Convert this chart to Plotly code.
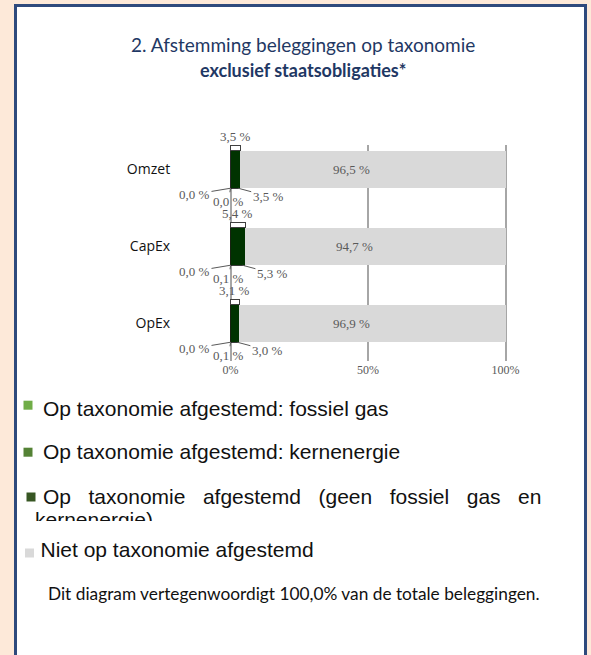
import plotly.graph_objects as go

# ---------------- data ----------------
categories = ["Omzet", "CapEx", "OpEx"]
fossiel_gas = [0.0, 0.0, 0.0]
kernenergie = [0.0, 0.1, 0.1]
geen_fossiel_kern = [3.5, 5.3, 3.0]
niet_afgestemd = [96.5, 94.7, 96.9]
totaal_afgestemd = [3.5, 5.4, 3.1]
x_tickvals = [0, 50, 100]
x_ticktext = ["0%", "50%", "100%"]

title_line1 = "2. Afstemming beleggingen op taxonomie"
title_line2 = "exclusief staatsobligaties*"
legend_labels = [
    "Op taxonomie afgestemd: fossiel gas",
    "Op taxonomie afgestemd: kernenergie",
    "Op taxonomie afgestemd (geen fossiel gas en kernenergie)",
    "Niet op taxonomie afgestemd",
]
legend_colors = ["#70AD47", "#548235", "#375623", "#D9D9D9"]
footnote = "Dit diagram vertegenwoordigt 100,0% van de totale beleggingen."

# ---------------- helpers ----------------
W, H = 591, 655
def px(x):
    return x / W
def py(y):
    return 1 - y / H
def fmt(v):
    return f"{v:.1f}".replace(".", ",") + " %"

BAR_W = 0.487
BOX_W = 0.065
LBL_FONT = dict(family="Liberation Serif, Times New Roman, serif", size=13, color="#595959")
LEG_FONT = dict(family="Liberation Sans, Arial, sans-serif", size=21, color="#111111")
NAVY = "#1F3864"

fig = go.Figure()

bar_series = [
    (legend_labels[0], fossiel_gas, legend_colors[0], None),
    (legend_labels[1], kernenergie, legend_colors[1], None),
    (legend_labels[2], geen_fossiel_kern, "#003300", dict(color="#0a0a0a", width=0.8)),
    (legend_labels[3], niet_afgestemd, "#D9D9D9", None),
]
for name, vals, col, line in bar_series:
    fig.add_trace(go.Bar(
        name=name, y=categories, x=vals, orientation="h",
        marker=dict(color=col, line=line if line else dict(width=0)),
        width=BAR_W, showlegend=False, hoverinfo="skip",
    ))

# small total box above the aligned part
fig.add_trace(go.Bar(
    y=categories, x=totaal_afgestemd, orientation="h", yaxis="y2",
    marker=dict(color="white", line=dict(color="#404040", width=1)),
    width=BOX_W, offset=-(BAR_W / 2 + BOX_W), showlegend=False, hoverinfo="skip",
))

annotations = []
for i, cat in enumerate(categories):
    bottom = i + BAR_W / 2
    top = i - BAR_W / 2
    c1 = fossiel_gas[i]
    c2 = c1 + kernenergie[i]
    c3 = c2 + geen_fossiel_kern[i]
    common = dict(xref="x", yref="y", showarrow=True, arrowhead=0, arrowwidth=1,
                  arrowcolor="#595959", font=LBL_FONT, xanchor="center", yanchor="middle")
    annotations.append(dict(x=c1 / 2, y=bottom, text=fmt(fossiel_gas[i]), ax=-36, ay=6, **common))
    annotations.append(dict(x=c1 + kernenergie[i] / 2, y=bottom, text=fmt(kernenergie[i]), ax=-2, ay=13, **common))
    annotations.append(dict(x=c2 + geen_fossiel_kern[i] * 0.8, y=bottom, text=fmt(geen_fossiel_kern[i]), ax=30, ay=8, **common))
    annotations.append(dict(x=totaal_afgestemd[i] / 2, y=top - BOX_W, text=fmt(totaal_afgestemd[i]),
                            xref="x", yref="y", showarrow=False, xanchor="center", yanchor="bottom",
                            yshift=0, font=LBL_FONT))
    annotations.append(dict(x=c3 + niet_afgestemd[i] / 2, y=i, text=fmt(niet_afgestemd[i]),
                            xref="x", yref="y", showarrow=False, xanchor="center", yanchor="middle",
                            xshift=-21, font=LBL_FONT))

paper = dict(xref="paper", yref="paper", showarrow=False, yanchor="middle")
# titles
annotations.append(dict(x=px(302.5), y=py(44), text=title_line1, xanchor="center",
                        font=dict(family="Lato", size=19, color=NAVY), **paper))
annotations.append(dict(x=px(302.5), y=py(70), text="<b>" + title_line2 + "</b>", xanchor="center",
                        font=dict(family="Lato", size=18, color=NAVY), **paper))

# legend text lines
annotations.append(dict(x=px(40.7), y=py(408), text=legend_labels[0], xanchor="left", font=LEG_FONT, **paper))
annotations.append(dict(x=px(40.7), y=py(452), text=legend_labels[1], xanchor="left", font=LEG_FONT, **paper))
words3 = legend_labels[2].split(" ")
line3_first = "\u00a0\u00a0\u00a0".join(words3[:-1])
annotations.append(dict(x=px(40.7), y=py(496), text=line3_first, xanchor="left", font=LEG_FONT, **paper))
annotations.append(dict(x=px(46), y=py(593), text=footnote, xanchor="left",
                        font=dict(family="Lato", size=17.3, color="#111111"), **paper))

# clipped legend text lines (via clipped text traces)
fig.add_trace(go.Scatter(x=[px(35)], y=[-0.06], text=[words3[-1]], mode="text",
                         textposition="middle right", textfont=LEG_FONT,
                         xaxis="x3", yaxis="y3", showlegend=False, hoverinfo="skip", cliponaxis=True))
fig.add_trace(go.Scatter(x=[px(40.5)], y=[0.43], text=[legend_labels[3]], mode="text",
                         textposition="middle right", textfont=LEG_FONT,
                         xaxis="x4", yaxis="y4", showlegend=False, hoverinfo="skip", cliponaxis=True))

shapes = [
    dict(type="rect", xref="paper", yref="paper", x0=px(15.5), x1=px(585.5), y0=py(5.5), y1=-0.05,
         line=dict(color="#2E4A7D", width=3), fillcolor="white", layer="below"),
]
sq = [(23.5, 400.7), (23.5, 447.7), (26.5, 492.5), (25, 548.5)]
for (sx, sy), col in zip(sq, legend_colors):
    shapes.append(dict(type="rect", xref="paper", yref="paper", x0=px(sx), x1=px(sx + 9),
                       y0=py(sy), y1=py(sy + 9), line=dict(width=0), fillcolor=col, layer="above"))

# x range padded slightly so that the 0% and 100% gridlines are drawn
X0_PX, X100_PX = 230.5, 505.5
PAD = 0.5
ppu = (X100_PX - X0_PX) / 100.0
hidden = dict(visible=False, range=[0, 1], fixedrange=True, automargin=False)
fig.update_layout(
    width=W, height=H, autosize=False,
    margin=dict(l=0, r=0, t=0, b=0, pad=0, autoexpand=False),
    paper_bgcolor="#FDE9D9", plot_bgcolor="rgba(0,0,0,0)",
    barmode="stack", showlegend=False,
    xaxis=dict(domain=[px(X0_PX - PAD * ppu), px(X100_PX + PAD * ppu)], range=[-PAD, 100 + PAD],
               tickvals=x_tickvals, ticktext=x_ticktext, automargin=False,
               showgrid=True, gridcolor="#A6A6A6", gridwidth=1.5, zeroline=False, showline=False,
               ticks="", tickfont=dict(family="Liberation Serif, serif", size=12, color="#595959"),
               fixedrange=True),
    yaxis=dict(domain=[py(361), py(145)], type="category", categoryarray=categories,
               range=[2.487, -0.318], showgrid=False, zeroline=False, ticks="", automargin=False,
               tickfont=dict(family="Open Sans", size=14, color="#111111"),
               ticklabelstandoff=58, fixedrange=True),
    yaxis2=dict(overlaying="y", type="category", categoryarray=categories, automargin=False,
                range=[2.487, -0.318], visible=False, fixedrange=True),
    xaxis3=dict(domain=[0, 1], anchor="y3", **hidden),
    yaxis3=dict(domain=[py(521), py(505)], anchor="x3", **hidden),
    xaxis4=dict(domain=[0, 1], anchor="y4", **hidden),
    yaxis4=dict(domain=[py(561), py(540)], anchor="x4", **hidden),
    annotations=annotations,
    shapes=shapes,
)

fig.write_html(
    "out.html",
    config={"displayModeBar": False, "responsive": False},
    post_script=(
        "document.body.style.margin='0';document.body.style.padding='0';"
        "document.body.style.overflow='hidden';"
        "var gd=document.getElementById('{plot_id}');"
        "Plotly.relayout(gd,{width:%d,height:%d});" % (W, H)
    ),
)
